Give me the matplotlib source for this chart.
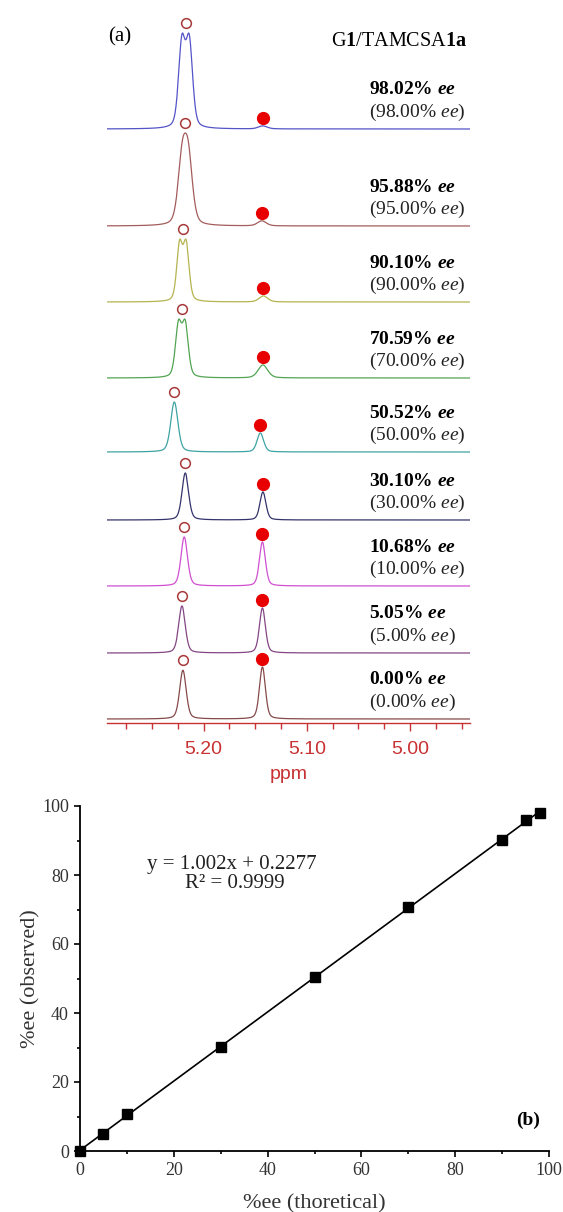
import numpy as np
import matplotlib
matplotlib.use("Agg")
import matplotlib.pyplot as plt
from matplotlib.ticker import MultipleLocator

plt.rcParams['mathtext.fontset'] = 'custom'
plt.rcParams['mathtext.rm'] = 'Liberation Serif'
plt.rcParams['mathtext.it'] = 'Liberation Serif:italic'
plt.rcParams['mathtext.bf'] = 'Liberation Serif:bold'
plt.rcParams['mathtext.bfit'] = 'Liberation Serif:italic:bold'

# ---- data (a): 1H NMR traces, top to bottom ----
ee_observed = ["98.02", "95.88", "90.10", "70.59", "50.52", "30.10", "10.68", "5.05", "0.00"]
ee_theory = ["98.00", "95.00", "90.00", "70.00", "50.00", "30.00", "10.00", "5.00", "0.00"]
major_ppm = [5.2174, 5.2177, 5.2200, 5.2210, 5.2283, 5.2177, 5.2187, 5.2209, 5.2200]
major_split = [0.0072, 0.006, 0.0064, 0.0066, 0.0, 0.0, 0.0, 0.0, 0.0]
major_width = [0.0076, 0.0095, 0.0066, 0.0070, 0.0082, 0.0075, 0.0075, 0.0075, 0.0075]
major_height = [96, 93, 63, 59, 50, 47, 49, 47, 48.7]
minor_ppm = [5.1425, 5.1435, 5.1420, 5.1425, 5.1450, 5.1425, 5.1430, 5.1430, 5.1430]
minor_width = [0.010, 0.010, 0.010, 0.011, 0.0075, 0.0068, 0.0068, 0.0068, 0.0068]
minor_height = [3, 5, 6, 13, 19, 28, 44, 45, 52]
colors = ['#5454c8', '#a45c5c', '#b4b450', '#52a452', '#3fa3a3', '#34346c',
          '#d050d0', '#844684', '#864a4a']
offsets = [594, 497, 421, 345, 271, 203, 137, 70, 4]

# ---- data (b): calibration ----
theoretical = [0, 5, 10, 30, 50, 70, 90, 95, 98]
observed = [0, 5.05, 10.68, 30.10, 50.52, 70.59, 90.10, 95.88, 98.02]
slope, intercept = 1.002, 0.2277


def lineshape(x, c, w, eta=0.35):
    # pseudo-Voigt with full width at half maximum w
    lor = 1.0 / (1.0 + ((x - c) / (w / 2.0)) ** 2)
    sig = w / 2.3548
    gau = np.exp(-0.5 * ((x - c) / sig) ** 2)
    return eta * lor + (1 - eta) * gau


W, H = 563, 1212
fig = plt.figure(figsize=(W / 100, H / 100), dpi=100)

# ---------- panel (a) ----------
red = '#c83232'
ax = fig.add_axes([107 / W, (H - 723) / H, (470 - 107) / W, 723 / H])
ax.set_xlim(5.2935, 4.942)
ax.set_ylim(0, 723)
ppm = np.linspace(4.942, 5.2935, 3000)

for i in range(len(ee_observed)):
    c, s, w = major_ppm[i], major_split[i], major_width[i]
    if s > 0:
        peak = lineshape(ppm, c - s / 2, w) + lineshape(ppm, c + s / 2, w)
    else:
        peak = lineshape(ppm, c, w)
    peak = peak / peak.max() * major_height[i]
    small = lineshape(ppm, minor_ppm[i], minor_width[i]) * minor_height[i]
    y = offsets[i] + peak + small
    ax.plot(ppm, y, color=colors[i], lw=0.9)
    ax.plot(c, offsets[i] + major_height[i] + 10, 'o', ms=7, mfc='none',
            mec='#a83a3a', mew=1.1, clip_on=False)
    ax.plot(minor_ppm[i], offsets[i] + minor_height[i] + 8, 'o', ms=8.5,
            color='#e80000', clip_on=False)
    ax.text(5.0396, offsets[i] + 39, ee_observed[i] + "% $\\mathbfit{ee}$",
            family='Liberation Serif', fontweight='bold', fontsize=14,
            ha='left', va='center')
    ax.text(5.0396, offsets[i] + 17, "(" + ee_theory[i] + "% $\\mathit{ee}$)",
            family='Liberation Serif', fontsize=14, ha='left', va='center',
            color='#222222')

ax.text(5.2921, 686, "(a)", family='Liberation Serif', fontsize=15,
        ha='left', va='center')
ax.text(5.011, 682, "G$\\mathbf{1}$/TAMCSA$\\mathbf{1a}$",
        family='Liberation Serif', fontsize=14.5, ha='center', va='center')

for side in ['top', 'left', 'right']:
    ax.spines[side].set_visible(False)
ax.spines['bottom'].set_color(red)
ax.spines['bottom'].set_linewidth(1.0)
ax.set_yticks([])
ax.xaxis.set_minor_locator(MultipleLocator(0.025))
ax.set_xticks([5.2, 5.1, 5.0])
ax.set_xticklabels(["5.20", "5.10", "5.00"])
ax.tick_params(axis='x', which='major', direction='out', length=6, width=1,
               color=red, labelcolor=red, labelsize=14, pad=7)
ax.tick_params(axis='x', which='minor', direction='out', length=4, width=1,
               color=red)
for lab in ax.get_xticklabels():
    lab.set_family('Liberation Sans')
ax.set_xlabel("ppm", family='Liberation Sans', fontsize=14, color=red,
              labelpad=6)
ax.patch.set_alpha(0)

# ---------- panel (b) ----------
bx = fig.add_axes([80 / W, (H - 1151) / H, (549 - 80) / W, (1151 - 806) / H])
xs = np.array([0, 98])
bx.plot(xs, slope * xs + intercept, color='black', lw=1.2, zorder=2)
bx.plot(theoretical, observed, 's', color='black', ms=7, clip_on=False, zorder=3)
bx.set_xlim(0, 100)
bx.set_ylim(0, 100)
for side in ['top', 'right']:
    bx.spines[side].set_visible(False)
for side in ['left', 'bottom']:
    bx.spines[side].set_linewidth(1.3)
bx.xaxis.set_major_locator(MultipleLocator(20))
bx.xaxis.set_minor_locator(MultipleLocator(10))
bx.yaxis.set_major_locator(MultipleLocator(20))
bx.yaxis.set_minor_locator(MultipleLocator(10))
bx.tick_params(which='major', direction='out', length=4, width=1.2,
               labelsize=13, labelcolor='#333333', pad=4)
bx.tick_params(which='minor', direction='out', length=2.5, width=1.2)
for lab in bx.get_xticklabels() + bx.get_yticklabels():
    lab.set_family('Liberation Serif')
bx.set_xlabel("%ee (thoretical)", family='Liberation Serif', fontsize=16,
              color='#333333', labelpad=11)
bx.set_ylabel("%ee (observed)", family='Liberation Serif', fontsize=16,
              color='#333333', labelpad=1)
bx.text(32.4, 82.9, "y = 1.002x + 0.2277", family='Liberation Serif',
        fontsize=15, ha='center', va='center', color='#222222')
bx.text(33, 77.4, "R² = 0.9999", family='Liberation Serif',
        fontsize=15, ha='center', va='center', color='#222222')
bx.text(95.5, 9, "(b)", family='Liberation Serif', fontsize=14,
        fontweight='bold', ha='center', va='center')

fig.savefig("out.png", dpi=100)
